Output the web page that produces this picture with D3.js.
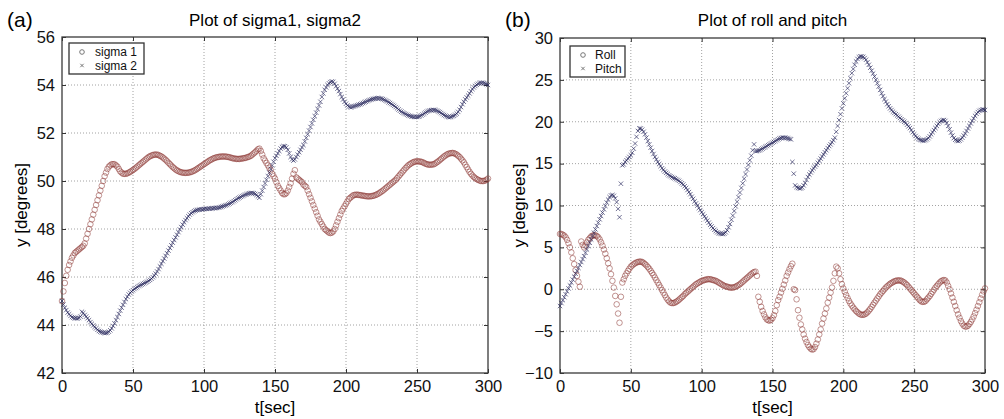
<!DOCTYPE html>
<html>
<head>
<meta charset="utf-8">
<script src="https://cdn.jsdelivr.net/npm/d3@7"></script>
<style>
  body { margin: 0; background: #fff; }
  svg { display: block; font-family: "Liberation Sans", Arial, Helvetica, sans-serif; }
</style>
</head>
<body>
<div id="chart"></div>
<script>
// Sample times (1 s steps, 0..300 s)
const time = d3.range(0, 301);

// Panel (a): sigma angles, degrees
const sigma1 = [
  45.0, 45.4, 45.75, 46.05, 46.3, 46.5, 46.65, 46.8, 46.9, 47.0,
  47.05, 47.1, 47.15, 47.2, 47.25, 47.3, 47.4, 47.6, 47.8, 48.0,
  48.2, 48.4, 48.6, 48.8, 49.0, 49.2, 49.4, 49.6, 49.8, 50.0,
  50.2, 50.35, 50.5, 50.6, 50.65, 50.7, 50.7, 50.7, 50.65, 50.6,
  50.5, 50.4, 50.35, 50.3, 50.3, 50.3, 50.32, 50.35, 50.38, 50.42,
  50.46, 50.5, 50.55, 50.6, 50.65, 50.7, 50.75, 50.8, 50.85, 50.9,
  50.95, 51.0, 51.03, 51.06, 51.08, 51.1, 51.1, 51.1, 51.08, 51.05,
  51.02, 50.98, 50.93, 50.88, 50.82, 50.76, 50.7, 50.64, 50.58, 50.53,
  50.48, 50.44, 50.41, 50.38, 50.36, 50.35, 50.34, 50.34, 50.34, 50.35,
  50.36, 50.38, 50.4, 50.43, 50.46, 50.5, 50.54, 50.58, 50.62, 50.66,
  50.7, 50.74, 50.78, 50.82, 50.86, 50.89, 50.92, 50.95, 50.97, 50.99,
  51.0, 51.01, 51.02, 51.02, 51.02, 51.02, 51.01, 51.0, 50.99, 50.97,
  50.95, 50.94, 50.93, 50.92, 50.92, 50.92, 50.93, 50.94, 50.95, 50.96,
  50.98, 51.0, 51.02, 51.05, 51.1, 51.15, 51.2, 51.26, 51.32, 51.35,
  51.25, 51.1, 50.95, 50.85, 50.75, 50.65, 50.55, 50.45, 50.3, 50.2,
  50.1, 49.95, 49.8, 49.7, 49.6, 49.5, 49.45, 49.45, 49.5, 49.6,
  49.75, 49.9, 50.1, 50.3, 50.45, 50.15, 50.1, 50.05, 50.0, 49.95,
  49.85, 49.8, 49.75, 49.6, 49.45, 49.3, 49.15, 49.0, 48.85, 48.7,
  48.55, 48.4, 48.3, 48.2, 48.1, 48.0, 47.95, 47.9, 47.85, 47.83,
  47.85, 47.9, 48.0, 48.15, 48.3, 48.45, 48.6, 48.75, 48.85, 48.95,
  49.05, 49.15, 49.25, 49.3, 49.35, 49.4, 49.42, 49.43, 49.43, 49.42,
  49.41, 49.4, 49.39, 49.38, 49.37, 49.36, 49.36, 49.36, 49.37, 49.38,
  49.4, 49.42, 49.45, 49.48, 49.52, 49.56, 49.6, 49.65, 49.7, 49.75,
  49.8, 49.85, 49.9, 49.95, 50.0, 50.05, 50.12, 50.19, 50.26, 50.33,
  50.4, 50.47, 50.54, 50.6, 50.66, 50.7, 50.74, 50.77, 50.8, 50.81,
  50.82, 50.82, 50.81, 50.8, 50.78, 50.75, 50.72, 50.7, 50.68, 50.68,
  50.68, 50.69, 50.7, 50.74, 50.78, 50.82, 50.87, 50.92, 50.97, 51.02,
  51.06, 51.1, 51.13, 51.15, 51.16, 51.17, 51.16, 51.13, 51.1, 51.05,
  51.0, 50.93, 50.86, 50.78, 50.68, 50.58, 50.48, 50.38, 50.3, 50.23,
  50.17, 50.12, 50.08, 50.05, 50.02, 50.0, 50.0, 50.0, 50.02, 50.05,
  50.1
];
const sigma2 = [
  45.0, 44.85, 44.72, 44.62, 44.52, 44.45, 44.38, 44.33, 44.3, 44.28,
  44.28, 44.28, 44.3, 44.35, 44.55, 44.5, 44.42, 44.35, 44.28, 44.2,
  44.12, 44.05, 43.98, 43.92, 43.86, 43.8, 43.75, 43.72, 43.7, 43.68,
  43.67, 43.67, 43.68, 43.72, 43.78, 43.86, 43.96, 44.07, 44.2, 44.33,
  44.46, 44.6, 44.72, 44.84, 44.96, 45.08, 45.18, 45.27, 45.34, 45.4,
  45.45, 45.5, 45.54, 45.58, 45.62, 45.65, 45.68, 45.71, 45.74, 45.77,
  45.8, 45.84, 45.88, 45.93, 45.99, 46.06, 46.14, 46.23, 46.33, 46.44,
  46.55, 46.66, 46.77, 46.88, 46.99, 47.1, 47.21, 47.32, 47.43, 47.54,
  47.65, 47.76, 47.87, 47.98, 48.08, 48.18, 48.28, 48.37, 48.45, 48.53,
  48.6, 48.66, 48.7, 48.74, 48.77, 48.79, 48.8, 48.81, 48.82, 48.82,
  48.83, 48.84, 48.84, 48.85, 48.85, 48.86, 48.86, 48.87, 48.87, 48.88,
  48.89, 48.9, 48.92, 48.94, 48.96, 48.98, 49.0, 49.03, 49.06, 49.09,
  49.12, 49.16, 49.2, 49.24, 49.28, 49.31, 49.34, 49.37, 49.4, 49.43,
  49.45, 49.47, 49.49, 49.5, 49.5, 49.49, 49.46, 49.42, 49.36, 49.3,
  49.45, 49.6, 49.75, 49.9, 50.05, 50.2, 50.35, 50.5, 50.65, 50.8,
  50.95, 51.05, 51.15, 51.25, 51.35, 51.42, 51.45, 51.45, 51.4, 51.3,
  51.15, 51.0, 50.9, 50.85, 50.9, 51.0, 51.1, 51.2, 51.3, 51.4,
  51.5, 51.65, 51.8, 51.95, 52.1, 52.25, 52.4, 52.55, 52.7, 52.85,
  53.0, 53.15, 53.3, 53.5, 53.65, 53.8, 53.9, 54.0, 54.07, 54.12,
  54.15, 54.13, 54.05, 53.95, 53.85, 53.75, 53.62, 53.5, 53.4, 53.3,
  53.22, 53.15, 53.1, 53.08, 53.08, 53.1, 53.12, 53.14, 53.16, 53.18,
  53.2, 53.22, 53.25, 53.28, 53.3, 53.33, 53.36, 53.38, 53.4, 53.42,
  53.43, 53.44, 53.45, 53.45, 53.44, 53.43, 53.41, 53.38, 53.35, 53.32,
  53.28, 53.25, 53.21, 53.17, 53.13, 53.08, 53.03, 52.98, 52.93, 52.89,
  52.85, 52.82, 52.79, 52.76, 52.73, 52.71, 52.69, 52.68, 52.67, 52.67,
  52.67, 52.68, 52.7, 52.73, 52.77, 52.81, 52.85, 52.89, 52.92, 52.94,
  52.95, 52.96, 52.96, 52.95, 52.93, 52.9, 52.87, 52.83, 52.79, 52.75,
  52.72, 52.69, 52.67, 52.66, 52.67, 52.7, 52.72, 52.76, 52.81, 52.88,
  52.97, 53.08, 53.2, 53.3, 53.4, 53.48, 53.56, 53.65, 53.74, 53.83,
  53.9, 53.96, 54.01, 54.05, 54.08, 54.09, 54.09, 54.08, 54.06, 54.03,
  54.0
];

// Panel (b): roll and pitch, degrees
const roll = [
  6.6, 6.6, 6.5, 6.4, 6.2, 5.9, 5.5, 5.0, 4.4, 3.7,
  3.0, 2.3, 1.6, 0.9, 0.3, 5.7, 5.3, 5.0, 5.2, 5.6,
  5.9, 6.1, 6.3, 6.4, 6.45, 6.45, 6.35, 6.2, 5.95, 5.6,
  5.2, 4.75, 4.25, 3.7, 3.1, 2.5, 1.8, 1.0, 0.2, -0.8,
  -1.8, -2.9, -4.0, -0.9, 0.8, 1.2, 1.6, 1.9, 2.2, 2.45,
  2.7, 2.85, 3.0, 3.1, 3.2, 3.25, 3.3, 3.3, 3.25, 3.15,
  3.0, 2.85, 2.65, 2.45, 2.2, 1.95, 1.7, 1.4, 1.1, 0.8,
  0.5, 0.2, -0.1, -0.4, -0.7, -1.0, -1.25, -1.45, -1.6, -1.65,
  -1.65, -1.6, -1.5, -1.4, -1.25, -1.1, -0.95, -0.8, -0.6, -0.45,
  -0.3, -0.15, 0.0, 0.15, 0.3, 0.45, 0.6, 0.7, 0.8, 0.9,
  1.0, 1.05, 1.1, 1.15, 1.2, 1.2, 1.2, 1.15, 1.1, 1.05,
  1.0, 0.9, 0.8, 0.7, 0.6, 0.5, 0.4, 0.35, 0.3, 0.25,
  0.2, 0.2, 0.2, 0.25, 0.3, 0.4, 0.5, 0.6, 0.75, 0.9,
  1.05, 1.2, 1.35, 1.5, 1.65, 1.8, 1.95, 2.05, 2.1, 1.6,
  -0.9, -1.5, -2.1, -2.6, -3.0, -3.35, -3.6, -3.7, -3.75, -3.65,
  -3.45, -3.1, -2.6, -1.9, -1.3, -0.9, -0.4, 0.05, 0.55, 1.05,
  1.6, 2.0, 2.4, 2.75, 3.05, 0.0, -0.1, -1.2, -2.5, -3.4,
  -4.2, -4.8, -5.4, -5.9, -6.3, -6.65, -6.9, -7.1, -7.2, -7.15,
  -6.9, -6.5, -6.0, -5.4, -4.8, -4.1, -3.5, -2.9, -2.3, -1.6,
  -1.0, -0.4, 0.2, 1.0, 1.9, 2.7, 2.5, 1.9, 1.2, 0.6,
  0.1, -0.3, -0.7, -1.05, -1.4, -1.7, -1.95, -2.2, -2.4, -2.6,
  -2.75, -2.9, -3.0, -3.05, -3.05, -3.0, -2.9, -2.75, -2.55, -2.35,
  -2.1, -1.85, -1.6, -1.35, -1.1, -0.85, -0.6, -0.4, -0.2, 0.0,
  0.2, 0.35, 0.5, 0.65, 0.75, 0.85, 0.95, 1.0, 1.05, 1.05,
  1.05, 1.0, 0.9, 0.8, 0.65, 0.5, 0.3, 0.1, -0.1, -0.3,
  -0.5, -0.7, -0.9, -1.1, -1.3, -1.45, -1.5, -1.5, -1.4, -1.2,
  -1.0, -0.8, -0.55, -0.3, -0.05, 0.2, 0.4, 0.6, 0.8, 0.95,
  1.05, 1.1, 1.05, 0.8, 0.4, 0.0, -0.5, -1.0, -1.5, -2.0,
  -2.5, -3.0, -3.4, -3.8, -4.1, -4.35, -4.45, -4.45, -4.35, -4.15,
  -3.9, -3.6, -3.25, -2.85, -2.45, -2.0, -1.55, -1.1, -0.65, -0.25,
  0.1
];
const pitch = [
  -2.0, -1.65, -1.3, -0.95, -0.6, -0.25, 0.1, 0.45, 0.8, 1.15,
  1.5, 1.85, 2.2, 2.55, 2.9, 3.25, 3.6, 3.95, 4.35, 4.75,
  5.15, 5.55, 5.95, 6.35, 6.75, 7.15, 7.55, 7.95, 8.35, 8.75,
  9.15, 9.55, 9.95, 10.35, 10.7, 11.0, 11.2, 11.25, 11.15, 10.85,
  10.4, 9.6, 8.6, 12.6, 14.8, 14.9, 15.2, 15.4, 15.6, 15.8,
  16.0, 16.3, 16.8, 17.4, 18.2, 18.9, 19.2, 19.2, 19.05, 18.8,
  18.5, 18.1, 17.7, 17.3, 16.9, 16.5, 16.15, 15.8, 15.5, 15.2,
  14.95, 14.7, 14.45, 14.25, 14.05, 13.9, 13.75, 13.6, 13.5, 13.4,
  13.3, 13.25, 13.15, 13.05, 12.95, 12.8, 12.65, 12.5, 12.3, 12.1,
  11.85, 11.6, 11.35, 11.05, 10.8, 10.5, 10.25, 10.0, 9.7, 9.45,
  9.2, 8.95, 8.7, 8.45, 8.2, 7.95, 7.7, 7.5, 7.3, 7.1,
  6.95, 6.8, 6.7, 6.65, 6.6, 6.6, 6.65, 6.8, 7.05, 7.4,
  7.8, 8.3, 8.8, 9.35, 9.9, 10.45, 11.0, 11.55, 12.1, 12.65,
  13.2, 13.75, 14.3, 14.85, 15.4, 15.95, 16.6, 17.3, 16.5, 16.5,
  16.55, 16.6, 16.7, 16.8, 16.9, 17.0, 17.1, 17.2, 17.3, 17.4,
  17.5, 17.6, 17.7, 17.8, 17.9, 18.0, 18.05, 18.1, 18.1, 18.1,
  18.05, 18.0, 17.95, 17.9, 15.2, 13.8, 12.4, 12.2, 12.1, 12.05,
  12.05, 12.15, 12.4, 12.7, 13.05, 13.4, 13.7, 13.95, 14.2, 14.45,
  14.65, 14.85, 15.1, 15.35, 15.6, 15.85, 16.1, 16.35, 16.6, 16.85,
  17.1, 17.3, 17.55, 17.8, 18.1, 18.8, 19.5, 20.2, 20.9, 21.6,
  22.2, 22.8, 23.4, 24.0, 24.6, 25.2, 25.8, 26.3, 26.8, 27.2,
  27.5, 27.7, 27.8, 27.8, 27.75, 27.6, 27.4, 27.1, 26.8, 26.45,
  26.1, 25.75, 25.4, 25.0, 24.6, 24.2, 23.8, 23.4, 23.05, 22.7,
  22.4, 22.1, 21.85, 21.6, 21.4, 21.2, 21.05, 20.9, 20.75, 20.6,
  20.45, 20.3, 20.15, 20.0, 19.85, 19.65, 19.45, 19.25, 19.0, 18.75,
  18.5, 18.3, 18.1, 17.95, 17.85, 17.8, 17.75, 17.75, 17.8, 17.9,
  18.05, 18.25, 18.5, 18.75, 19.0, 19.25, 19.5, 19.75, 19.95, 20.1,
  20.2, 20.2, 20.1, 19.85, 19.5, 19.1, 18.7, 18.35, 18.05, 17.85,
  17.75, 17.7, 17.75, 17.9, 18.1, 18.35, 18.6, 18.9, 19.2, 19.5,
  19.8, 20.1, 20.4, 20.7, 20.95, 21.15, 21.3, 21.4, 21.45, 21.45,
  21.4
];

// Tick values
const xTicks = [0, 50, 100, 150, 200, 250, 300];
const sigmaTicks = [42, 44, 46, 48, 50, 52, 54, 56];
const attitudeTicks = [-10, -5, 0, 5, 10, 15, 20, 25, 30];

const W = 1004, H = 419;
const circleColor = "#8e3a36";
const crossColor = "#1c1c55";

const svg = d3.select("#chart")
  .append("svg")
  .attr("width", W)
  .attr("height", H);

function crossPath(s) {
  return `M${-s},${-s}L${s},${s}M${-s},${s}L${s},${-s}`;
}

function drawPanel(cfg) {
  const x = d3.scaleLinear().domain([0, 300]).range([cfg.x0, cfg.x1]);
  const y = d3.scaleLinear().domain(cfg.yDomain).range([cfg.y1, cfg.y0]);
  const g = svg.append("g");

  // Dotted grid
  g.selectAll(".gx")
    .data(xTicks.slice(1, -1))
    .join("line")
    .attr("x1", d => x(d)).attr("x2", d => x(d))
    .attr("y1", cfg.y0).attr("y2", cfg.y1)
    .style("stroke", "#8c8c8c")
    .style("stroke-width", 0.8)
    .style("stroke-dasharray", "1 2");
  g.selectAll(".gy")
    .data(cfg.yTicks.slice(1, -1))
    .join("line")
    .attr("x1", cfg.x0).attr("x2", cfg.x1)
    .attr("y1", d => y(d)).attr("y2", d => y(d))
    .style("stroke", "#8c8c8c")
    .style("stroke-width", 0.8)
    .style("stroke-dasharray", "1 2");

  // Axes, ticks pointing in on all four sides
  const styleAxis = sel => {
    sel.select(".domain").remove();
    sel.selectAll(".tick line").attr("stroke", "#333");
    sel.selectAll("text").style("font-size", "16.5px").style("fill", "#111");
  };
  g.append("g")
    .attr("transform", `translate(0,${cfg.y1})`)
    .call(d3.axisBottom(x).tickValues(xTicks).tickSizeInner(-4).tickSizeOuter(0).tickPadding(7))
    .call(styleAxis)
    .attr("font-family", null);
  g.append("g")
    .attr("transform", `translate(0,${cfg.y0})`)
    .call(d3.axisTop(x).tickValues(xTicks).tickSizeInner(-4).tickSizeOuter(0).tickFormat(""))
    .call(styleAxis);
  g.append("g")
    .attr("transform", `translate(${cfg.x0},0)`)
    .call(d3.axisLeft(y).tickValues(cfg.yTicks).tickSizeInner(-4).tickSizeOuter(0).tickPadding(7))
    .call(styleAxis)
    .attr("font-family", null);
  g.append("g")
    .attr("transform", `translate(${cfg.x1},0)`)
    .call(d3.axisRight(y).tickValues(cfg.yTicks).tickSizeInner(-4).tickSizeOuter(0).tickFormat(""))
    .call(styleAxis);

  // Frame
  g.append("rect")
    .attr("x", cfg.x0).attr("y", cfg.y0)
    .attr("width", cfg.x1 - cfg.x0).attr("height", cfg.y1 - cfg.y0)
    .style("fill", "none")
    .style("stroke", "#3a3a3a")
    .style("stroke-width", 1.3);

  // Markers
  const circ = cfg.series[0], crs = cfg.series[1];
  g.append("g").selectAll("circle")
    .data(time)
    .join("circle")
    .attr("cx", d => x(d))
    .attr("cy", (d, i) => y(circ.values[i]))
    .attr("r", 2.8)
    .style("fill", "none")
    .style("stroke", circleColor)
    .style("stroke-width", 0.9)
    .style("stroke-opacity", 0.6);
  g.append("g").selectAll("path")
    .data(time)
    .join("path")
    .attr("transform", (d, i) => `translate(${x(d)},${y(crs.values[i])})`)
    .attr("d", crossPath(2.2))
    .style("fill", "none")
    .style("stroke", crossColor)
    .style("stroke-width", 0.9)
    .style("stroke-opacity", 0.7);

  // Legend
  const rowGap = 13.5;
  const lg = g.append("g").attr("transform", `translate(${cfg.legend.x},${cfg.legend.y})`);
  lg.append("rect")
    .attr("width", cfg.legend.w).attr("height", 31)
    .style("fill", "#fff")
    .style("stroke", "#333")
    .style("stroke-width", 1.3);
  lg.append("circle")
    .attr("cx", 13).attr("cy", 9).attr("r", 2.3)
    .style("fill", "none").style("stroke", "#777").style("stroke-width", 1);
  lg.append("path")
    .attr("transform", `translate(13,${9 + rowGap})`)
    .attr("d", crossPath(1.7))
    .style("stroke", "#777").style("stroke-width", 1);
  lg.selectAll("text")
    .data(cfg.series)
    .join("text")
    .attr("x", cfg.legend.tx)
    .attr("y", (d, i) => 13 + i * rowGap)
    .style("font-size", "12px")
    .style("fill", "#111")
    .text(d => d.label);

  // Titles and labels
  svg.append("text")
    .attr("x", (cfg.x0 + cfg.x1) / 2).attr("y", 26)
    .attr("text-anchor", "middle")
    .style("font-size", "17px")
    .text(cfg.title);
  svg.append("text")
    .attr("x", cfg.x0 - 55).attr("y", 27)
    .style("font-size", "21px")
    .text(cfg.tag);
  svg.append("text")
    .attr("x", (cfg.x0 + cfg.x1) / 2).attr("y", 413)
    .attr("text-anchor", "middle")
    .style("font-size", "17px")
    .text("t[sec]");
  svg.append("text")
    .attr("transform", `translate(${cfg.x0 - 35},${(cfg.y0 + cfg.y1) / 2}) rotate(-90)`)
    .attr("text-anchor", "middle")
    .style("font-size", "17px")
    .text("y [degrees]");
}

drawPanel({
  x0: 62, x1: 488, y0: 37, y1: 373,
  yDomain: [42, 56], yTicks: sigmaTicks,
  title: "Plot of sigma1, sigma2", tag: "(a)",
  series: [{ values: sigma1, label: "sigma 1" }, { values: sigma2, label: "sigma 2" }],
  legend: { x: 69, y: 43, w: 75, tx: 26 }
});

drawPanel({
  x0: 560, x1: 985, y0: 38, y1: 373,
  yDomain: [-10, 30], yTicks: attitudeTicks,
  title: "Plot of roll and pitch", tag: "(b)",
  series: [{ values: roll, label: "Roll" }, { values: pitch, label: "Pitch" }],
  legend: { x: 570, y: 46, w: 55, tx: 25 }
});
</script>
</body>
</html>
